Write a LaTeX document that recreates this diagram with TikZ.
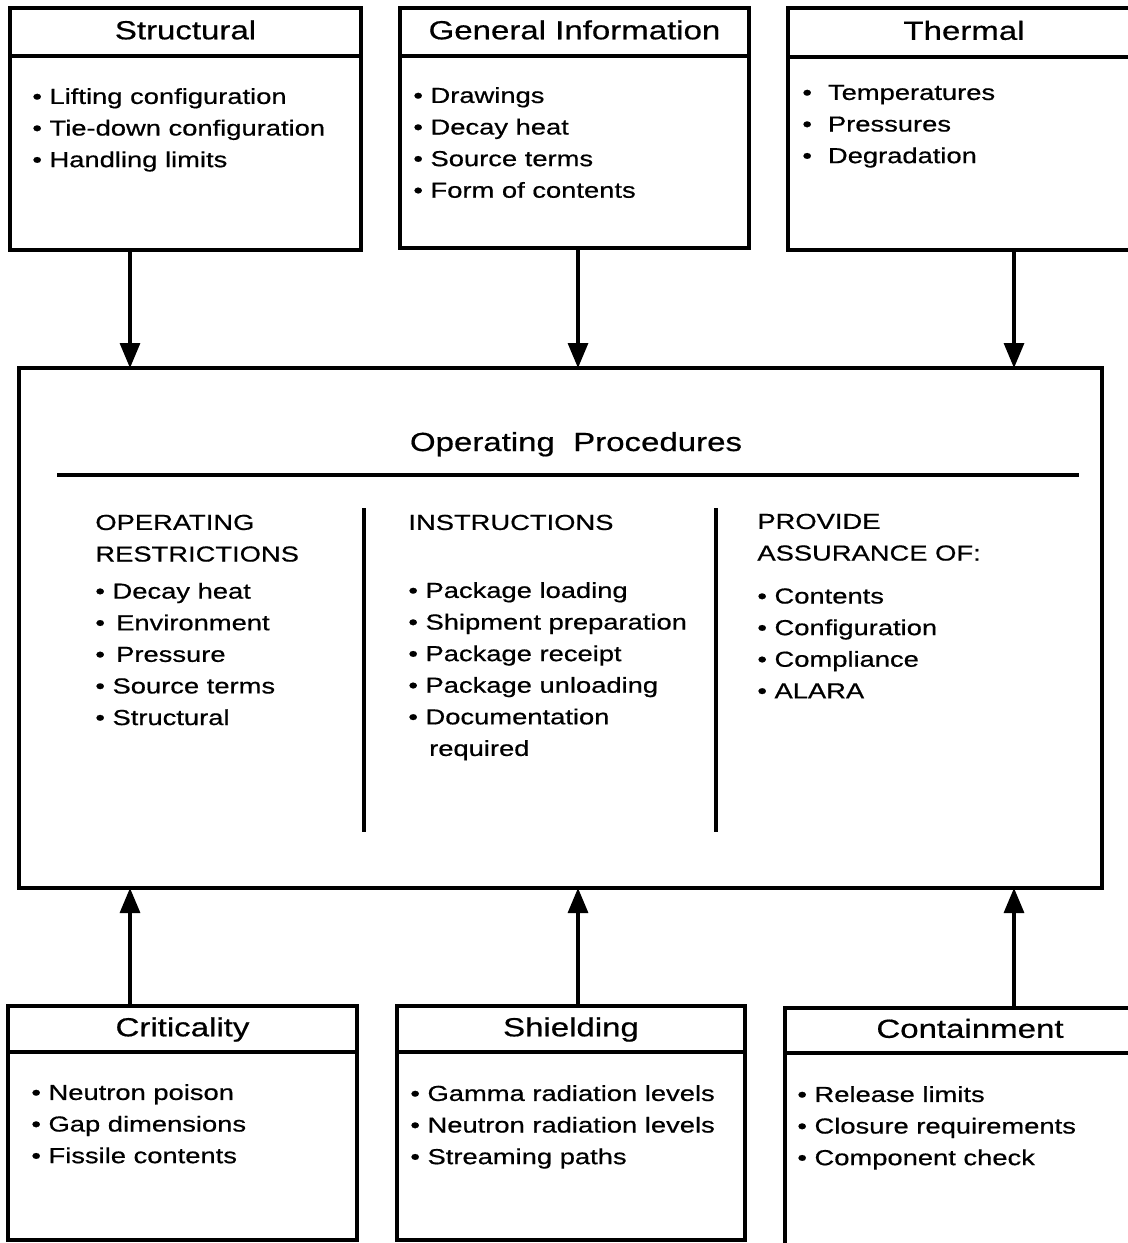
\documentclass[tikz,border=0pt]{standalone}
\usepackage{fontspec}
\setmainfont{Liberation Sans}[FakeStretch=1.26,FakeBold=0.6]
\usetikzlibrary{arrows.meta,positioning,calc}
\tikzstyle{head}=[draw,line width=1.7pt,outer sep=0pt,anchor=north west,inner sep=0pt,font=\fontsize{13.1}{15}\selectfont,text height=1.38ex,text depth=0pt]
\tikzstyle{panel}=[draw,line width=1.7pt,outer sep=0pt,inner sep=0pt]
\tikzstyle{items}=[anchor=north west,inner sep=0pt,align=left,font=\fontsize{10.85}{15.8}\selectfont]
\tikzstyle{link}=[line width=1.6pt,-{Triangle[length=12.5pt,width=10pt]}]
\newcommand{\itm}{\textbullet\ }

\begin{document}
\begin{tikzpicture}[x=0.5pt,y=-0.5pt]
\useasboundingbox (0,0) rectangle (1128,1243);
\clip (0,0) rectangle (1128,1243);
% top row
\node [head,minimum width=175.5pt,minimum height=24pt] (strhd) at (10,8) {Structural};
\node [panel,minimum width=175.5pt,minimum height=97pt,below=0pt of strhd] (strbox) {};
\node [items] (strlst) at (32,81.4) {\strut\itm Lifting configuration\\ \itm Tie-down configuration\\ \itm Handling limits};
\node [head,minimum width=174.5pt,minimum height=24pt] (genhd) at (400,8) {General Information};
\node [panel,minimum width=174.5pt,minimum height=96pt,below=0pt of genhd] (genbox) {};
\node [items] (genlst) at (413,80.4) {\strut\itm Drawings\\ \itm Decay heat\\ \itm Source terms\\ \itm Form of contents};
\node [head,minimum width=176pt,minimum height=24.5pt] (thmhd) at (788,8) {Thermal};
\node [panel,minimum width=176pt,minimum height=96.5pt,below=0pt of thmhd] (thmbox) {};
\node [items] (thmlst) at (802,77.4) {\strut\textbullet\hspace{8pt}Temperatures\\ \textbullet\hspace{8pt}Pressures\\ \textbullet\hspace{8pt}Degradation};
% centre box
\node [panel,anchor=north west,minimum width=541.5pt,minimum height=260pt] (ops) at (19,368) {};
\node [anchor=base,font=\fontsize{13.1}{15}\selectfont] (opstitle) at (576,451) {Operating\ \ Procedures};
\draw [line width=1.7pt] (57,475) -- (1079,475);
\draw [line width=1.6pt] (364,508) -- (364,832);
\draw [line width=1.6pt] (716,508) -- (716,832);
\node [items] (oprlst) at (95,507.4) {\strut OPERATING\\ RESTRICTIONS\\[2.75pt] \itm Decay heat\\ \itm\,Environment\\ \itm\,Pressure\\ \itm Source terms\\ \itm Structural};
\node [items] (inslst) at (408,507.4) {\strut INSTRUCTIONS\\[18.2pt] \itm Package loading\\ \itm Shipment preparation\\ \itm Package receipt\\ \itm Package unloading\\ \itm Documentation\\ \phantom{\itm}\,required};
\node [items] (asslst) at (757,506.4) {\strut PROVIDE\\ ASSURANCE OF:\\[5.7pt] \itm Contents\\ \itm Configuration\\ \itm Compliance\\ \itm ALARA};
% bottom row
\node [head,minimum width=174.5pt,minimum height=23pt] (crihd) at (8,1006) {Criticality};
\node [panel,minimum width=174.5pt,minimum height=94pt,below=0pt of crihd] (cribox) {};
\node [items] (crilst) at (31,1077.4) {\strut\itm Neutron poison\\ \itm Gap dimensions\\ \itm Fissile contents};
\node [head,minimum width=174pt,minimum height=23pt] (shdhd) at (397,1006) {Shielding};
\node [panel,minimum width=174pt,minimum height=94pt,below=0pt of shdhd] (shdbox) {};
\node [items] (shdlst) at (410,1078.4) {\strut\itm Gamma radiation levels\\ \itm Neutron radiation levels\\ \itm Streaming paths};
\node [head,minimum width=185pt,minimum height=22.5pt] (cnthd) at (785,1008) {Containment};
\node [panel,minimum width=185pt,minimum height=100pt,below=0pt of cnthd] (cntbox) {};
\node [items] (cntlst) at (797,1079.4) {\strut\itm Release limits\\ \itm Closure requirements\\ \itm Component check};
% arrows
\coordinate (a1) at (130,0);
\coordinate (a2) at (578,0);
\coordinate (a3) at (1014,0);
\draw [link] (strbox.south -| a1) -- (ops.north -| a1);
\draw [link] (genbox.south -| a2) -- (ops.north -| a2);
\draw [link] (thmbox.south -| a3) -- (ops.north -| a3);
\draw [link] (crihd.north -| a1) -- (ops.south -| a1);
\draw [link] (shdhd.north -| a2) -- (ops.south -| a2);
\draw [link] (cnthd.north -| a3) -- (ops.south -| a3);
\end{tikzpicture}
\end{document}
